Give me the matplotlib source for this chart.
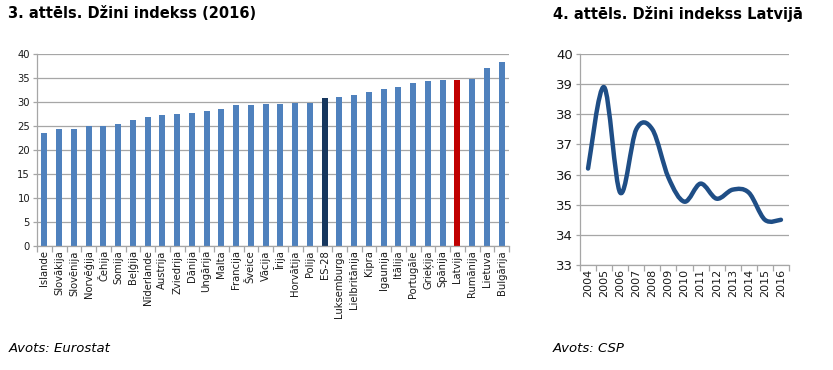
import numpy as np
import matplotlib
matplotlib.use("Agg")
import matplotlib.pyplot as plt
from matplotlib.path import Path
from matplotlib.patches import PathPatch

# 3. attels - Dzini indekss 2016 (Eurostat)
countries = ["Islande", "Slovākija", "Slovēnija", "Norvēģija", "Čehija", "Somija",
             "Beļģija", "Nīderlande", "Austrija", "Zviedrija", "Dānija", "Ungārija",
             "Malta", "Francija", "Šveice", "Vācija", "Īrija", "Horvātija", "Polija",
             "ES-28", "Luksemburga", "Lielbritānija", "Kipra", "Igaunija", "Itālija",
             "Portugāle", "Grieķija", "Spānija", "Latvija", "Rumānija", "Lietuva",
             "Bulgārija"]
gini_2016 = [23.6, 24.3, 24.4, 25.0, 25.1, 25.4, 26.3, 26.9, 27.2, 27.6, 27.7, 28.2,
             28.5, 29.3, 29.4, 29.5, 29.5, 29.8, 29.8, 30.8, 31.0, 31.5, 32.1, 32.7,
             33.1, 33.9, 34.3, 34.5, 34.5, 34.7, 37.0, 38.3]

# 4. attels - Dzini indekss Latvija (CSP)
years = ["2004", "2005", "2006", "2007", "2008", "2009", "2010", "2011", "2012",
         "2013", "2014", "2015", "2016"]
gini_lv = [36.2, 38.9, 35.4, 37.5, 37.5, 35.9, 35.1, 35.7, 35.2, 35.5, 35.4, 34.5, 34.5]

blue = "#4f81bd"
grid_c = "#a6a6a6"
W, H = 833, 370

fig = plt.figure(figsize=(W / 100, H / 100), dpi=100)

def box(l, t, r, b):
    return [l / W, 1 - b / H, (r - l) / W, (b - t) / H]

def style(ax):
    for s in ["top", "right"]:
        ax.spines[s].set_visible(False)
    for s in ["left", "bottom"]:
        ax.spines[s].set_color(grid_c)
        ax.spines[s].set_linewidth(0.9)
    ax.yaxis.grid(True, color=grid_c, linewidth=0.9)
    ax.set_axisbelow(True)
    ax.tick_params(axis="y", color=grid_c, length=3, width=0.9, pad=2)
    ax.tick_params(axis="x", which="major", length=0, pad=3)
    ax.tick_params(axis="x", which="minor", color=grid_c, length=4, width=0.9)

# left chart
ax1 = fig.add_axes(box(37, 54, 509, 246))
x = np.arange(len(countries))
colors = [blue] * len(countries)
colors[countries.index("ES-28")] = "#17375e"
colors[countries.index("Latvija")] = "#c00000"
ax1.bar(x, gini_2016, width=0.42, color=colors)
ax1.set_xlim(-0.5, len(countries) - 0.5)
ax1.set_ylim(0, 40)
ax1.set_yticks(range(0, 41, 5))
ax1.set_xticks(x)
ax1.set_xticklabels(countries, rotation=90, fontsize=7.2, color="#1a1a1a")
ax1.set_xticks(np.arange(-0.5, len(countries), 1), minor=True)
ax1.tick_params(axis="y", labelsize=7.2, labelcolor="#1a1a1a")
style(ax1)

# right chart
ax2 = fig.add_axes(box(580, 54, 789, 265))
xs = np.arange(len(years), dtype=float)
ys = np.array(gini_lv)
# Excel-like smooth line (Catmull-Rom as Bezier segments)
px = np.concatenate([[xs[0]], xs, [xs[-1]]])
py = np.concatenate([[ys[0]], ys, [ys[-1]]])
verts = [(xs[0], ys[0])]
codes = [Path.MOVETO]
for i in range(1, len(px) - 2):
    c1 = (px[i] + (px[i + 1] - px[i - 1]) / 6, py[i] + (py[i + 1] - py[i - 1]) / 6)
    c2 = (px[i + 1] - (px[i + 2] - px[i]) / 6, py[i + 1] - (py[i + 2] - py[i]) / 6)
    verts += [c1, c2, (px[i + 1], py[i + 1])]
    codes += [Path.CURVE4] * 3
ax2.add_patch(PathPatch(Path(verts, codes), fill=False, edgecolor="#1f4e86",
                        linewidth=3.2, capstyle="round", joinstyle="round"))
ax2.set_xlim(-0.5, len(years) - 0.5)
ax2.set_ylim(33, 40)
ax2.set_yticks(range(33, 41))
ax2.set_xticks(xs)
ax2.set_xticklabels(years, rotation=90, fontsize=8, color="#1a1a1a")
ax2.set_xticks(np.arange(-0.5, len(years), 1), minor=True)
ax2.tick_params(axis="y", labelsize=9.5, labelcolor="#1a1a1a")
style(ax2)

fig.text(8 / W, 1 - 14 / H, "3. attēls. Džini indekss (2016)", fontsize=10.5,
         fontweight="bold", va="center", ha="left")
fig.text(553 / W, 1 - 14 / H, "4. attēls. Džini indekss Latvijā", fontsize=10.5,
         fontweight="bold", va="center", ha="left")
fig.text(9 / W, 1 - 349 / H, "Avots: Eurostat", fontsize=9.5, style="italic",
         va="center", ha="left")
fig.text(553 / W, 1 - 349 / H, "Avots: CSP", fontsize=9.5, style="italic",
         va="center", ha="left")

fig.savefig("out.png", dpi=100)
